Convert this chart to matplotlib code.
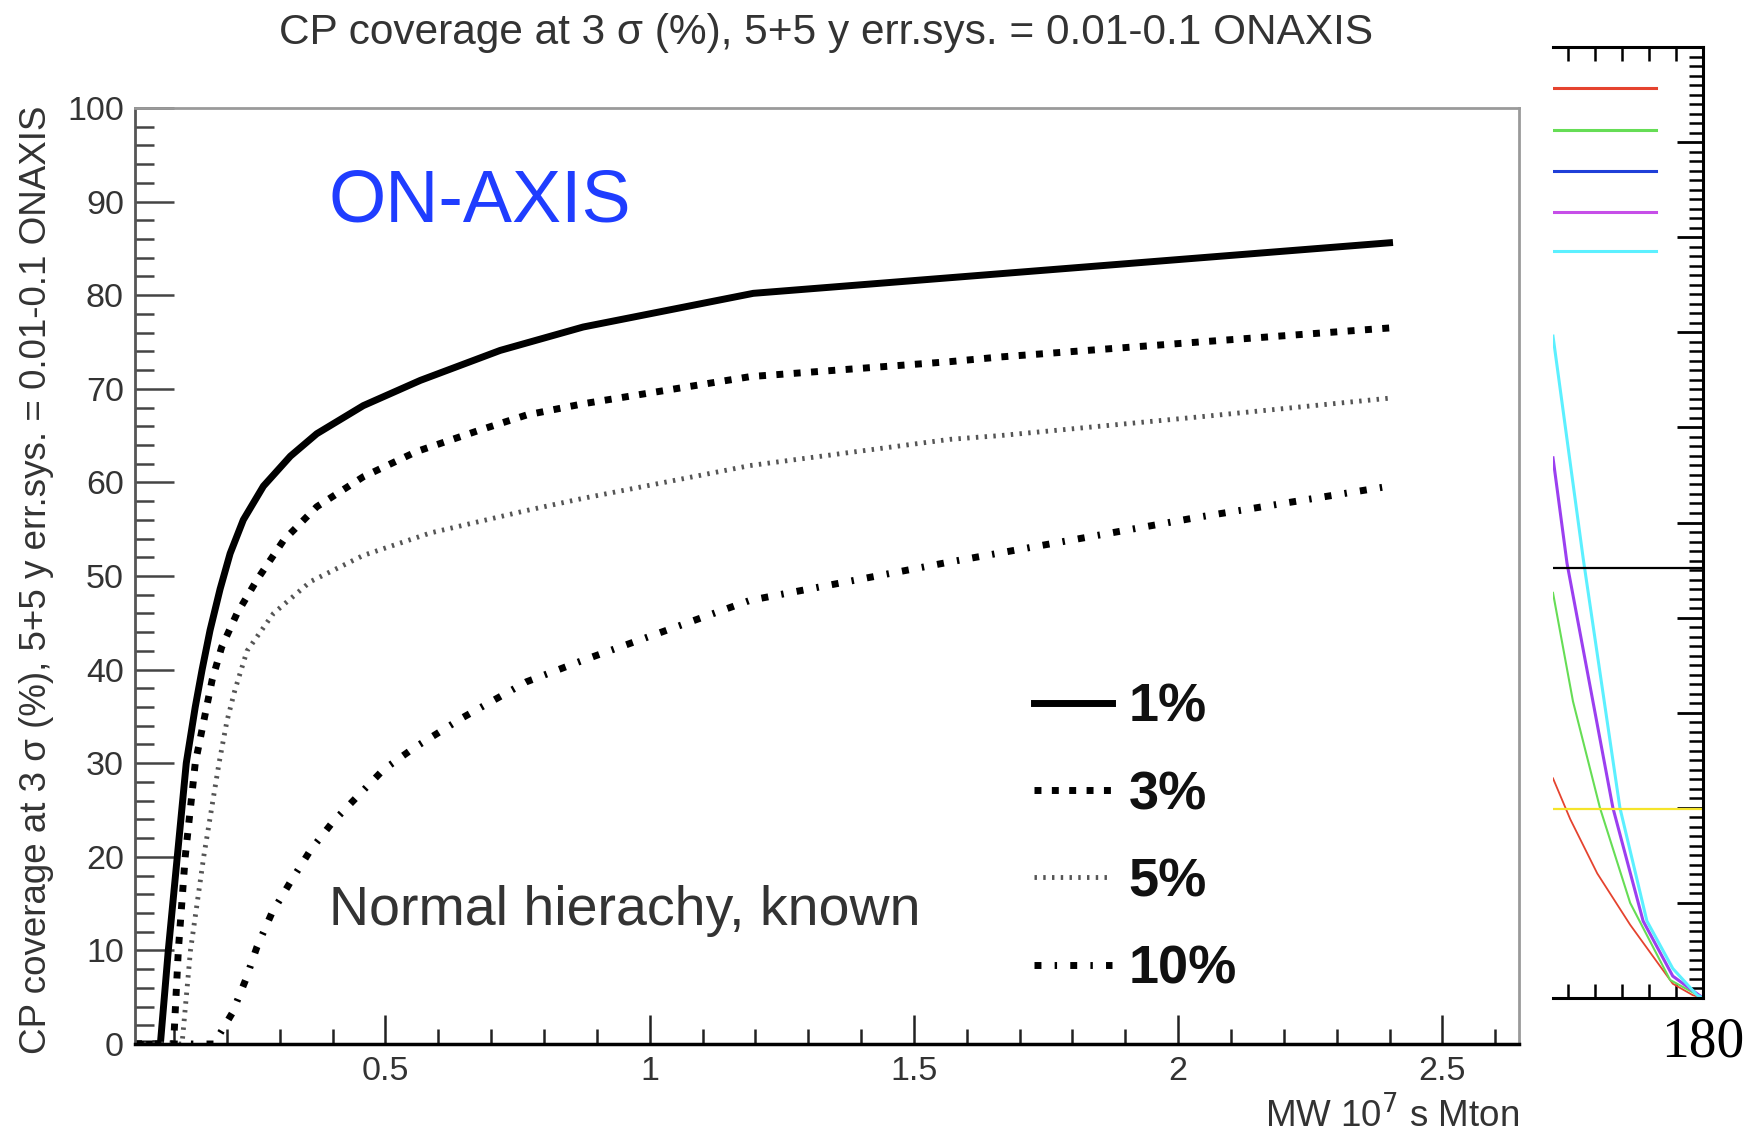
import matplotlib
matplotlib.use('Agg')
import matplotlib.pyplot as plt
from matplotlib.ticker import MultipleLocator, FuncFormatter

plt.rcParams['font.family'] = ['Liberation Sans', 'DejaVu Sans']

# ---------------- data ----------------
x_1pct = [0.026, 0.074, 0.089, 0.106, 0.123, 0.140, 0.153, 0.168, 0.187, 0.206, 0.231,
          0.269, 0.320, 0.370, 0.458, 0.566, 0.717, 0.874, 1.196, 2.40]
y_1pct = [0, 0, 10, 20, 30, 36.0, 40.0, 44.2, 48.6, 52.4, 56.0,
          59.6, 62.8, 65.2, 68.2, 70.9, 74.1, 76.6, 80.2, 85.6]

x_3pct = [0.026, 0.099, 0.108, 0.121, 0.140, 0.159, 0.172, 0.190, 0.219, 0.257, 0.307,
          0.370, 0.458, 0.559, 0.679, 0.767, 0.874, 1.19, 1.568, 1.663, 2.04, 2.40]
y_3pct = [0, 0, 10, 20, 30, 35.3, 38.9, 42.4, 46.0, 49.6, 53.8,
          57.4, 60.6, 63.3, 65.6, 67.2, 68.4, 71.3, 72.9, 73.4, 75.0, 76.5]

x_5pct = [0.026, 0.115, 0.131, 0.156, 0.185, 0.200, 0.215, 0.238, 0.288, 0.358, 0.458,
          0.585, 0.767, 0.874, 1.19, 1.568, 1.663, 2.04, 2.40]
y_5pct = [0, 0, 10, 20, 30, 34.5, 37.8, 42.0, 46.0, 49.4, 52.2,
          54.6, 57.0, 58.3, 61.8, 64.6, 65.0, 67.0, 69.0]

x_10pct = [0.026, 0.175, 0.210, 0.235, 0.257, 0.285, 0.320, 0.358, 0.400, 0.446, 0.496,
           0.553, 0.647, 0.767, 0.874, 1.19, 1.568, 2.04, 2.40]
y_10pct = [0, 0, 3.3, 6.8, 10.4, 14.0, 17.3, 20.7, 23.7, 26.4, 29.3,
           31.6, 34.9, 38.7, 41.0, 47.4, 51.5, 56.3, 59.6]

labels = ['1%', '3%', '5%', '10%']

title = 'CP coverage at 3 σ (%), 5+5 y err.sys. = 0.01-0.1 ONAXIS'
ylabel = 'CP coverage at 3 σ (%), 5+5 y err.sys. = 0.01-0.1 ONAXIS'
xlabel = 'MW 10$^7$ s Mton'

# partial neighbouring panel (cut off at the right edge)
r_red_x = [152.2, 155.4, 160.4, 166.5, 174.4, 178.1, 180.0]
r_red_y = [23.1, 18.8, 13.1, 7.7, 1.5, 0.3, 0.0]
r_green_x = [152.2, 155.9, 160.9, 166.5, 173.9, 180.0]
r_green_y = [42.6, 31.2, 20.0, 10.0, 1.9, 0.0]
r_purple_x = [152.2, 154.8, 163.3, 168.9, 174.4, 180.0]
r_purple_y = [56.8, 45.7, 20.0, 8.1, 2.3, 0.0]
r_cyan_x = [152.2, 157.8, 164.6, 169.6, 174.4, 178.9, 180.0]
r_cyan_y = [69.6, 46.2, 20.0, 8.1, 3.1, 0.3, 0.0]
r_black_level = 45.2
r_yellow_level = 19.9
r_legend_y = [95.7, 91.3, 87.0, 82.6, 78.6]
r_legend_x = [152.2, 171.3]
r_legend_colors = ['#e5432f', '#66dd55', '#1f3fd8', '#c64ee8', '#5cf0ff']
r_xticks = [155, 160, 165, 170, 175, 180]
r_xticklabels = ['', '', '', '', '', '180']
r_yticks_major = [0, 10, 20, 30, 40, 50, 60, 70, 80, 90, 100]
r_yticks_minor = list(range(0, 101))

# ---------------- figure ----------------
W, H = 1762, 1133
fig = plt.figure(figsize=(W / 100, H / 100), dpi=100)
fig.patch.set_facecolor('white')


def fx(px):
    return px / W


def fy(py):
    return 1 - py / H


ax = fig.add_axes([fx(135), fy(1044), 1384 / W, 936 / H])
ax.set_xlim(0.026, 2.645)
ax.set_ylim(0, 100)

ax.plot(x_1pct, y_1pct, color='black', lw=5, solid_joinstyle='round', label=labels[0])
ax.plot(x_3pct, y_3pct, color='black', lw=5, linestyle=(0, (1, 1.5)), label=labels[1])
ax.plot(x_5pct, y_5pct, color='#555555', lw=3.5, linestyle=(0, (0.5, 1.3)), label=labels[2])
ax.plot(x_10pct, y_10pct, color='black', lw=5, linestyle=(0, (1, 1.9, 0.35, 1.9)), label=labels[3])

# axes styling
for s in ['top', 'right']:
    ax.spines[s].set_color('#9a9a9a')
    ax.spines[s].set_linewidth(2)
ax.spines['left'].set_color('#555555')
ax.spines['left'].set_linewidth(2)
ax.spines['bottom'].set_color('black')
ax.spines['bottom'].set_linewidth(2.5)

ax.xaxis.set_major_locator(MultipleLocator(0.5))
ax.xaxis.set_minor_locator(MultipleLocator(0.1))
ax.yaxis.set_major_locator(MultipleLocator(10))
ax.yaxis.set_minor_locator(MultipleLocator(2))
ax.xaxis.set_major_formatter(FuncFormatter(lambda v, p: f'{v:g}'))

ax.tick_params(axis='x', which='major', direction='in', length=21, width=1.8,
               color='#222222', labelsize=24.5, labelcolor='#333333', pad=9)
ax.tick_params(axis='x', which='minor', direction='in', length=10.5, width=1.8, color='#222222')
ax.tick_params(axis='y', which='major', direction='in', length=28, width=1.8,
               color='#444444', labelsize=24.5, labelcolor='#333333', pad=8)
ax.tick_params(axis='y', which='minor', direction='in', length=14, width=1.8, color='#444444')

leg = ax.legend(loc='upper left', bbox_to_anchor=(0.6496, 0.386), frameon=False,
                prop=dict(weight='bold', size=39), handlelength=1.44, handletextpad=0.31,
                labelspacing=0.69, borderpad=0, borderaxespad=0)
for t in leg.get_texts():
    t.set_color('#111111')

# texts
fig.text(fx(826), fy(44), title, ha='center', va='baseline', fontsize=30.5, color='#333333')
fig.text(fx(37), fy(106), ylabel, rotation=90, ha='center', va='top', fontsize=26.5,
         color='#333333')
fig.text(fx(1519), fy(1127), xlabel, ha='right', va='baseline', fontsize=26.5, color='#333333')
fig.text(fx(329), fy(221), 'ON-AXIS', ha='left', va='baseline', fontsize=53, color='#1f3dff')
fig.text(fx(329), fy(925), 'Normal hierachy, known', ha='left', va='baseline', fontsize=40,
         color='#333333')

# ---------------- partial right panel ----------------
ax2 = fig.add_axes([fx(1553), fy(998), 150 / W, 951 / H])
ax2.set_xlim(152.2, 180)
ax2.set_ylim(0, 100)
ax2.spines['left'].set_visible(False)
for s in ['top', 'right', 'bottom']:
    ax2.spines[s].set_color('black')
    ax2.spines[s].set_linewidth(2.2)

ax2.plot(r_red_x, r_red_y, color=r_legend_colors[0], lw=1.3)
ax2.plot(r_green_x, r_green_y, color=r_legend_colors[1], lw=1.5)
ax2.plot(r_purple_x, r_purple_y, color='#9b3ff0', lw=2.2)
ax2.plot(r_cyan_x, r_cyan_y, color=r_legend_colors[4], lw=2.2)
ax2.axhline(r_black_level, color='black', lw=1.6)
ax2.axhline(r_yellow_level, color='#f5e42a', lw=1.6)
for yy, cc in zip(r_legend_y, r_legend_colors):
    ax2.plot(r_legend_x, [yy, yy], color=cc, lw=2.2)

ax2.set_xticks(r_xticks)
ax2.set_xticklabels(r_xticklabels, fontfamily='Liberation Serif', fontsize=40)
ax2.xaxis.set_ticks_position('both')
ax2.tick_params(axis='x', which='major', direction='in', length=10, width=1.8, pad=13,
                top=True, bottom=True)
ax2.set_yticks(r_yticks_major)
ax2.set_yticks(r_yticks_minor, minor=True)
ax2.tick_params(axis='y', which='both', left=False, right=True, labelleft=False,
                labelright=False, direction='in')
ax2.tick_params(axis='y', which='major', length=19, width=2.0)
ax2.tick_params(axis='y', which='minor', length=10, width=1.8)

fig.savefig('out.png', dpi=100, facecolor='white')
